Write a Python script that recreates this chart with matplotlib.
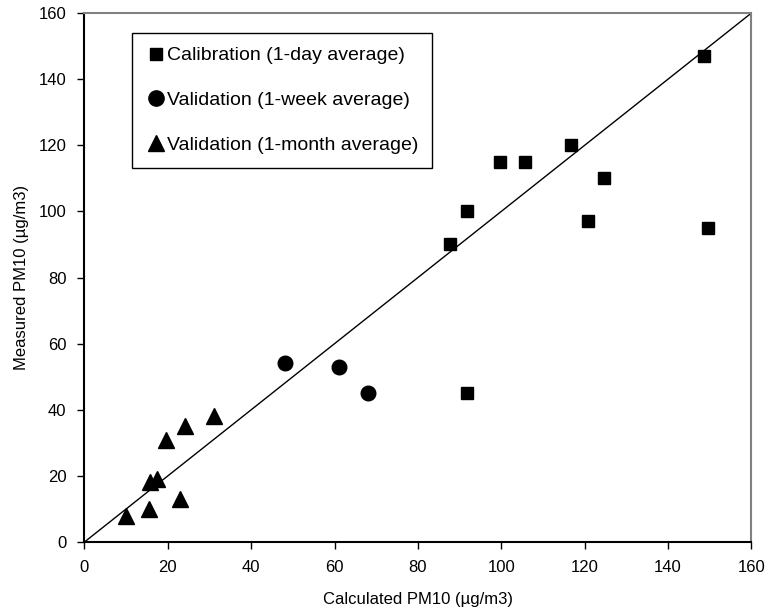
import matplotlib
matplotlib.use("Agg")
import matplotlib.pyplot as plt
from matplotlib.lines import Line2D

plt.rcParams['font.family'] = ['Liberation Sans', 'DejaVu Sans']

# Calibration (1-day average)
cal_x = [87.7, 91.7, 91.7, 99.7, 105.7, 116.7, 120.7, 124.7, 148.6, 149.6]
cal_y = [90.0, 100.0, 45.0, 115.0, 115.0, 120.0, 97.0, 110.0, 147.0, 95.0]
# Validation (1-week average)
wk_x = [48.0, 61.0, 68.0]
wk_y = [54.0, 53.0, 45.0]
# Validation (1-month average)
mo_x = [10.0, 15.5, 15.8, 17.5, 19.5, 24.0, 31.0, 23.0]
mo_y = [8.0, 10.0, 18.0, 19.0, 31.0, 35.0, 38.0, 13.0]

ticks = [0, 20, 40, 60, 80, 100, 120, 140, 160]
labels = ["Calibration (1-day average)",
          "Validation (1-week average)",
          "Validation (1-month average)"]

fig = plt.figure(figsize=(7.7, 6.13), dpi=100)
ax = fig.add_axes([0.1097, 0.1158, 0.8662, 0.863])

ax.plot([0, 160], [0, 160], color='black', lw=1.0, zorder=1)
ax.plot(cal_x, cal_y, 's', color='black', ms=8.6, ls='none', zorder=3)
ax.plot(wk_x, wk_y, 'o', color='black', ms=10.5, ls='none', zorder=3)
ax.plot(mo_x, mo_y, '^', color='black', ms=11, ls='none', zorder=3)

ax.set_xlim(0, 160)
ax.set_ylim(0, 160)
ax.set_xticks(ticks)
ax.set_yticks(ticks)
ax.tick_params(direction='out', length=5, width=1, labelsize=12, pad=8, colors='black')

for s in ['left', 'bottom']:
    ax.spines[s].set_color('black')
    ax.spines[s].set_linewidth(1.5)
for s in ['top', 'right']:
    ax.spines[s].set_color('#808080')
    ax.spines[s].set_linewidth(1.5)

ax.set_xlabel("Calculated PM10 (µg/m3)", fontsize=12, labelpad=12)
ax.set_ylabel("Measured PM10 (µg/m3)", fontsize=12, labelpad=7)

handles = [Line2D([], [], marker='s', color='black', ls='none', ms=8),
           Line2D([], [], marker='o', color='black', ls='none', ms=11),
           Line2D([], [], marker='^', color='black', ls='none', ms=12)]
leg = ax.legend(handles, labels, loc='upper left', bbox_to_anchor=(0.072, 0.962),
                borderaxespad=0, fontsize=14, frameon=True, fancybox=False,
                edgecolor='black', labelspacing=1.4, handletextpad=0.1,
                handlelength=1.0, borderpad=0.7, framealpha=1)
leg.get_frame().set_linewidth(1.0)
leg.set_zorder(5)

fig.savefig("out.png", dpi=100)
